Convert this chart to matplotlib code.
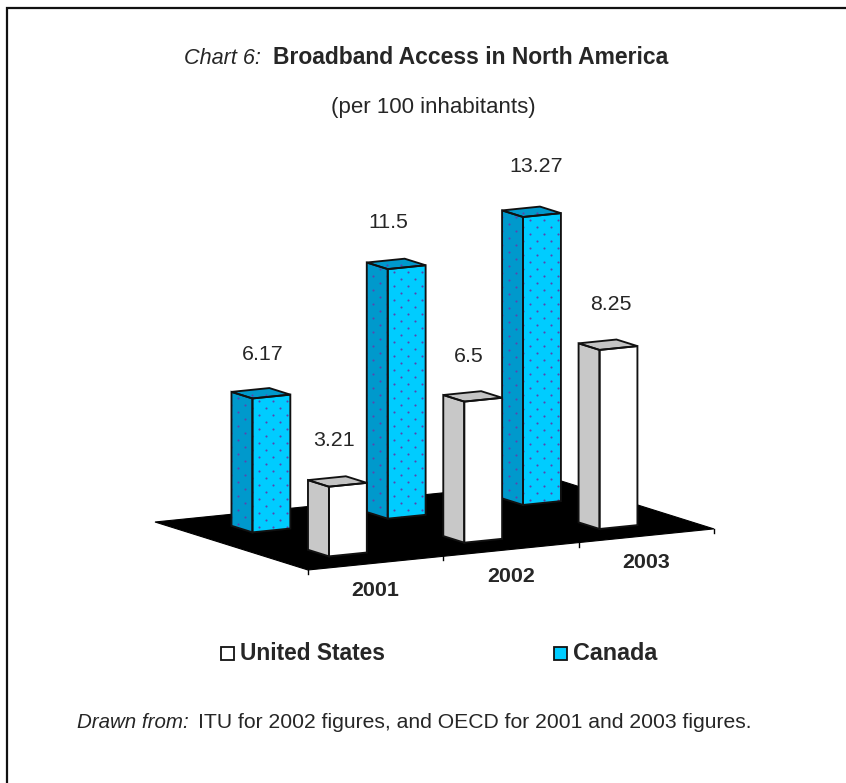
import matplotlib
matplotlib.use("Agg")
import matplotlib.pyplot as plt
import numpy as np
from matplotlib.patches import Polygon, Rectangle

years = ["2001", "2002", "2003"]
us_values = [3.21, 6.5, 8.25]
canada_values = [6.17, 11.5, 13.27]
us_labels = ["3.21", "6.5", "8.25"]
canada_labels = ["6.17", "11.5", "13.27"]

# oblique projection of the 3d floor onto the page, in pixels
FLOOR_FRONT = np.array([308.0, 570.0])
YEAR_STEP = np.array([135.3, -13.7])
DEPTH_STEP = np.array([-153.0, -48.0])
PX_PER_UNIT = 21.7

BAR_W = 0.28
BAR_D = 0.137

plt.rcParams["font.family"] = ["Liberation Sans", "DejaVu Sans"]

TEXT = "#262626"


def project(year, depth, value=0.0):
    p = FLOOR_FRONT + year * YEAR_STEP + depth * DEPTH_STEP
    return p + np.array([0.0, -value * PX_PER_UNIT])


def dotted(ax, verts, color):
    # screen aligned stipple, clipped to the face
    poly = Polygon(verts, closed=True, facecolor="none", edgecolor="none", zorder=0)
    ax.add_patch(poly)
    xs = np.arange(np.floor(verts[:, 0].min()), verts[:, 0].max() + 7, 7.0)
    ys = np.arange(np.floor(verts[:, 1].min()), verts[:, 1].max() + 7, 7.0)
    gx, gy = np.meshgrid(xs, ys)
    keep = ((gx // 7 + gy // 7) % 2) == 0
    dots = ax.scatter(gx[keep], gy[keep], s=2.3, color=color, linewidths=0, zorder=ax.zo + 0.1)
    dots.set_clip_path(poly)


def draw_bar(ax, year_i, depth_c, value, front, side, top, stipple=None):
    x0 = year_i + 0.5 - BAR_W / 2
    x1 = year_i + 0.5 + BAR_W / 2
    d0 = depth_c - BAR_D / 2
    d1 = depth_c + BAR_D / 2
    ax.zo += 1

    front_face = np.array([project(x0, d0), project(x1, d0), project(x1, d0, value), project(x0, d0, value)])
    side_face = np.array([project(x0, d1), project(x0, d0), project(x0, d0, value), project(x0, d1, value)])
    top_face = np.array([project(x0, d0, value), project(x1, d0, value), project(x1, d1, value), project(x0, d1, value)])

    for verts, col in ((side_face, side), (front_face, front), (top_face, top)):
        ax.add_patch(Polygon(verts, closed=True, facecolor=col, edgecolor="none", zorder=ax.zo))
    if stipple:
        dotted(ax, side_face, stipple)
        dotted(ax, front_face, stipple)
        dotted(ax, top_face, stipple)
    for verts in (side_face, front_face, top_face):
        ax.add_patch(Polygon(verts, closed=True, facecolor="none", edgecolor="#111111",
                             linewidth=1.35, joinstyle="miter", zorder=ax.zo + 0.2))


fig = plt.figure(figsize=(8.46, 7.83), dpi=100)
ax = fig.add_axes([0, 0, 1, 1])
ax.set_xlim(0, 846)
ax.set_ylim(783, 0)
ax.axis("off")
ax.zo = 2

# outer frame, only top and left fall inside the page
ax.plot([6.5, 6.5, 846], [783, 7.5, 7.5], color="#111111", lw=1.6, solid_joinstyle="miter", zorder=1)

# floor
floor = np.array([project(0, 0), project(3, 0), project(3, 1), project(0, 1)])
ax.add_patch(Polygon(floor, closed=True, facecolor="black", edgecolor="black", linewidth=0.8, zorder=1))
for i in range(4):
    p = project(i, 0)
    ax.plot([p[0], p[0]], [p[1], p[1] + 4], color="black", lw=1, zorder=1)

# back row first so the front row overlaps it
for i, v in enumerate(canada_values):
    draw_bar(ax, i, 0.75, v, "#00CCFF", "#0099CC", "#0099CC", stipple="#5A44B0")
for i, v in enumerate(us_values):
    draw_bar(ax, i, 0.25, v, "#FFFFFF", "#C8C8C8", "#C4C4C4")

# value labels, centred above each bar
canada_nudge = [(10, -44), (1, -47), (13, -50)]
us_nudge = [(5, -46), (5, -45), (11, -45)]
for i, (v, lab) in enumerate(zip(canada_values, canada_labels)):
    p = project(i + 0.5 - BAR_W / 2, 0.75 - BAR_D / 2, v)
    ax.text(p[0] + canada_nudge[i][0], p[1] + canada_nudge[i][1], lab, ha="center", va="center", fontsize=15.4, color=TEXT)
for i, (v, lab) in enumerate(zip(us_values, us_labels)):
    p = project(i + 0.5 - BAR_W / 2, 0.25 - BAR_D / 2, v)
    ax.text(p[0] + us_nudge[i][0], p[1] + us_nudge[i][1], lab, ha="center", va="center", fontsize=15.4, color=TEXT)

# year labels under the front edge
for i, y in enumerate(years):
    p = project(i + 0.5, 0)
    ax.text(p[0], p[1] + 27, y, ha="center", va="center", fontsize=15.4, fontweight="bold", color=TEXT)

# titles
ax.text(184, 58, "Chart 6:", ha="left", va="center", fontsize=15.6, style="italic", color=TEXT)
ax.text(273, 57, "Broadband Access in North America", ha="left", va="center", fontsize=16.45, fontweight="bold", color=TEXT)
ax.text(433.5, 107, "(per 100 inhabitants)", ha="center", va="center", fontsize=16, color=TEXT)

# legend
ax.add_patch(Rectangle((221, 647), 13, 12.5, facecolor="white", edgecolor="#111111", linewidth=1.3, zorder=3))
ax.text(240, 653, "United States", ha="left", va="center", fontsize=16.4, fontweight="bold", color=TEXT)
ax.add_patch(Rectangle((554, 647), 13, 12.5, facecolor="#00CCFF", edgecolor="#111111", linewidth=1.3, zorder=3))
ax.text(573, 653, "Canada", ha="left", va="center", fontsize=16.8, fontweight="bold", color=TEXT)

# source note
ax.text(77, 722, "Drawn from:", ha="left", va="center", fontsize=14.8, style="italic", color=TEXT)
ax.text(198, 722, "ITU for 2002 figures, and OECD for 2001 and 2003 figures.", ha="left", va="center", fontsize=15.2, color=TEXT)

fig.savefig("out.png", dpi=100)
